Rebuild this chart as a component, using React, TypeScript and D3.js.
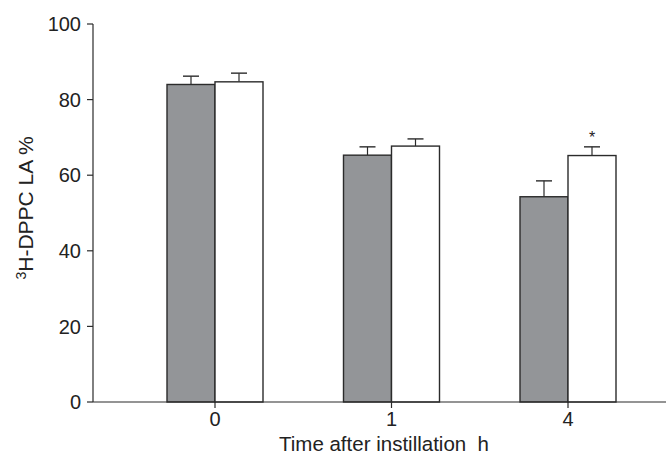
import React from "react";
import * as d3 from "d3";

const times = ["0", "1", "4"];
const controlMean = [84.0, 65.3, 54.3];
const controlErr = [2.2, 2.2, 4.2];
const treatedMean = [84.7, 67.7, 65.2];
const treatedErr = [2.3, 1.9, 2.3];
const significant = [false, false, true];
const yTicks = [0, 20, 40, 60, 80, 100];

function App() {
  const width = 669;
  const height = 455;
  const axisLeft = 93;
  const axisRight = 666;
  const barW = 48;

  const x = d3.scalePoint<string>().domain(times).range([215, 568]);
  const y = d3.scaleLinear().domain([0, 100]).range([402, 24]);

  const font = "'Liberation Sans', Arial, sans-serif";
  const stroke = "#2b2b2b";
  const textColor = "#222";
  const fs = 20;

  const bars = times.flatMap((t, i) => {
    const cx = x(t) ?? 0;
    const series = [
      { key: "c", x0: cx - barW, v: controlMean[i], e: controlErr[i], fill: "#939598" },
      { key: "t", x0: cx, v: treatedMean[i], e: treatedErr[i], fill: "#ffffff" },
    ];
    return series.map((s) => {
      const mid = s.x0 + barW / 2;
      return (
        <g key={t + s.key}>
          <line x1={mid} x2={mid} y1={y(s.v)} y2={y(s.v + s.e)} stroke={stroke} strokeWidth={1.2} />
          <line x1={mid - 8} x2={mid + 8} y1={y(s.v + s.e)} y2={y(s.v + s.e)} stroke={stroke} strokeWidth={1.4} />
          <rect x={s.x0} y={y(s.v)} width={barW} height={y(0) - y(s.v)} fill={s.fill} stroke={stroke} strokeWidth={1.4} />
        </g>
      );
    });
  });

  const stars = times.map((t, i) =>
    significant[i] ? (
      <text key={t} x={(x(t) ?? 0) + barW / 2} y={y(treatedMean[i] + treatedErr[i]) - 4} textAnchor="middle" fontSize={16} fontFamily={font} fill={textColor}>
        *
      </text>
    ) : null
  );

  return (
    <svg width={width} height={height} style={{ position: "absolute", left: 0, top: 0 }}>
      <rect width={width} height={height} fill="#fff" />
      {bars}
      {stars}
      <line x1={axisLeft} x2={axisLeft} y1={y(100)} y2={y(0)} stroke={stroke} strokeWidth={1.2} />
      <line x1={axisLeft} x2={axisRight} y1={y(0)} y2={y(0)} stroke={stroke} strokeWidth={1.2} />
      {yTicks.map((v) => (
        <g key={v}>
          <line x1={axisLeft - 6} x2={axisLeft} y1={y(v)} y2={y(v)} stroke={stroke} strokeWidth={1.2} />
          <text x={axisLeft - 12} y={y(v)} dy="0.36em" textAnchor="end" fontSize={fs} fontFamily={font} fill={textColor}>
            {v}
          </text>
        </g>
      ))}
      {times.map((t) => (
        <g key={t}>
          <line x1={x(t)} x2={x(t)} y1={y(0)} y2={y(0) + 6} stroke={stroke} strokeWidth={1.2} />
          <text x={x(t)} y={426} textAnchor="middle" fontSize={fs} fontFamily={font} fill={textColor}>
            {t}
          </text>
        </g>
      ))}
      <text x={384} y={451} textAnchor="middle" fontSize={20.5} fontFamily={font} fill={textColor} style={{ whiteSpace: "pre" }}>
        {"Time after instillation  h"}
      </text>
      <text transform="translate(33,208) rotate(-90)" textAnchor="middle" fontSize={21} fontFamily={font} fill={textColor} style={{ whiteSpace: "pre" }}>
        <tspan fontSize={14} dy="-7">3</tspan>
        <tspan dy="7">{"H-DPPC LA %"}</tspan>
      </text>
    </svg>
  );
}

export default App;
